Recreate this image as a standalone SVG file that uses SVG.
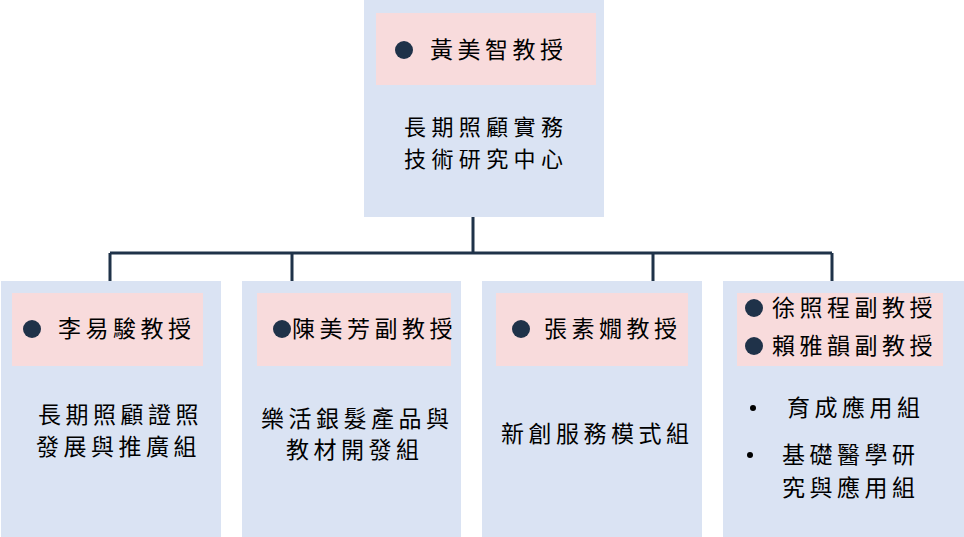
<svg xmlns="http://www.w3.org/2000/svg" width="964" height="537" viewBox="0 0 964 537">
<style>
.box{fill:#dae3f3}
.pk{fill:#f8dbdc}
.t{font-family:"Noto Sans CJK TC","Noto Sans CJK SC",sans-serif;font-size:23px;letter-spacing:4.5px;fill:#000}
.c{font-size:22px;letter-spacing:5.4px}
.dot{fill:#1f3249}
.sd{fill:#000}
.ln{stroke:#1f3249;stroke-width:3;fill:none}
</style>
<rect width="964" height="537" fill="#fff"/>
<g id="connectors">
<path class="ln" d="M473 217V253M110 253H832M110 253V282M292 253V282M653 253V282M832 253V282"/>
</g>
<g id="center">
<rect class="box" x="364" y="0" width="240" height="217"/>
<rect class="pk" x="376" y="13" width="220" height="72"/>
<circle class="dot" cx="404" cy="50" r="9"/>
<text class="t" x="430" y="58">黃美智教授</text>
<text class="t c" x="404" y="135">長期照顧實務</text>
<text class="t c" x="404" y="167">技術研究中心</text>
</g>
<g id="group1">
<rect class="box" x="1" y="281" width="220" height="256"/>
<rect class="pk" x="12" y="293" width="191" height="73"/>
<circle class="dot" cx="32" cy="329" r="9"/>
<text class="t" x="58" y="337">李易駿教授</text>
<text class="t" x="38" y="423">長期照顧證照</text>
<text class="t" x="36" y="455">發展與推廣組</text>
</g>
<g id="group2">
<rect class="box" x="242" y="281" width="219" height="256"/>
<rect class="pk" x="257" y="293" width="194" height="73"/>
<circle class="dot" cx="282" cy="329" r="9"/>
<text class="t" x="292" y="337">陳美芳副教授</text>
<text class="t" x="261" y="427">樂活銀髮產品與</text>
<text class="t" x="286" y="458">教材開發組</text>
</g>
<g id="group3">
<rect class="box" x="482" y="281" width="220" height="256"/>
<rect class="pk" x="496" y="293" width="192" height="73"/>
<circle class="dot" cx="521" cy="329" r="9"/>
<text class="t" x="544" y="337">張素嫺教授</text>
<text class="t" x="501" y="442">新創服務模式組</text>
</g>
<g id="group4">
<rect class="box" x="723" y="281" width="241" height="256"/>
<rect class="pk" x="737" y="293" width="206" height="73"/>
<circle class="dot" cx="754" cy="308" r="9"/>
<circle class="dot" cx="754" cy="346" r="9"/>
<text class="t" x="772" y="316">徐照程副教授</text>
<text class="t" x="772" y="354">賴雅韻副教授</text>
<circle class="sd" cx="753" cy="408" r="3"/>
<circle class="sd" cx="750" cy="455" r="3"/>
<text class="t" x="787" y="416">育成應用組</text>
<text class="t" x="782" y="463">基礎醫學研</text>
<text class="t" x="782" y="496">究與應用組</text>
</g>
</svg>
